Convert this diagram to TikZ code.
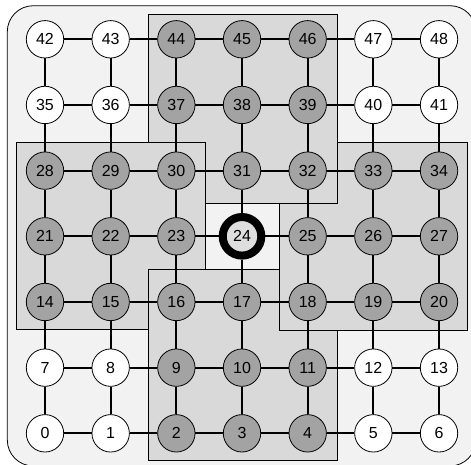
\documentclass[tikz,border=0pt]{standalone}
\usepackage{fontspec}
\setmainfont{Liberation Sans}
\definecolor{bgfill}{gray}{0.95}
\definecolor{regionfill}{gray}{0.85}
\definecolor{darkfill}{gray}{0.64}
\definecolor{hubfill}{gray}{0.87}
\tikzset{
  cell/.style={circle,draw,line width=0.8pt,minimum size=37.4pt,inner sep=0pt,
    font=\fontsize{16}{16}\selectfont},
  wcell/.style={cell,fill=white},
  gcell/.style={cell,fill=darkfill},
  hcell/.style={cell,fill=hubfill,line width=8pt,minimum size=38.6pt},
  link/.style={line width=2pt},
  regionedge/.style={line width=0.8pt},
}
\begin{document}
\begin{tikzpicture}[x=1pt,y=-1pt]
\useasboundingbox (0,0) rectangle (471,465);
\clip (0,0) rectangle (471,465);
% outer panel
\draw[fill=bgfill,line width=0.8pt,rounded corners=26pt] (7.3,5.7) rectangle (476,466);
% regions (fills)
\fill[regionfill] (148.3,14.3) rectangle (337,203.3);
\fill[regionfill] (279,142.7) rectangle (467,330);
\fill[regionfill] (148.3,269.3) rectangle (337,460);
\fill[regionfill] (16.7,142.7) rectangle (205,329.3);
% region outlines (pinwheel overlap)
\draw[regionedge] (148.3,142.7) -- (148.3,14.3) -- (337,14.3) -- (337,203.3) -- (205,203.3);
\draw[regionedge] (337,142.7) -- (467,142.7) -- (467,330) -- (279,330) -- (279,203.3);
\draw[regionedge] (337,330) -- (337,460) -- (148.3,460) -- (148.3,269.3) -- (279,269.3);
\draw[regionedge] (148.3,329.3) -- (16.7,329.3) -- (16.7,142.7) -- (205,142.7) -- (205,269.3);
% nodes
\foreach \n/\s in {0/wcell,1/wcell,2/gcell,3/gcell,4/gcell,5/wcell,6/wcell,
  7/wcell,8/wcell,9/gcell,10/gcell,11/gcell,12/wcell,13/wcell,
  14/gcell,15/gcell,16/gcell,17/gcell,18/gcell,19/gcell,20/gcell,
  21/gcell,22/gcell,23/gcell,24/hcell,25/gcell,26/gcell,27/gcell,
  28/gcell,29/gcell,30/gcell,31/gcell,32/gcell,33/gcell,34/gcell,
  35/wcell,36/wcell,37/gcell,38/gcell,39/gcell,40/wcell,41/wcell,
  42/wcell,43/wcell,44/gcell,45/gcell,46/gcell,47/wcell,48/wcell}{
  \pgfmathtruncatemacro\cc{mod(\n,7)}
  \pgfmathtruncatemacro\rr{6-int(\n/7)}
  \node[\s] (n\n) at ({45+65.67*\cc},{39.3+65.67*\rr}) {\n};
}
% links
\foreach \n in {0,...,48}{
  \pgfmathtruncatemacro\cc{mod(\n,7)}
  \pgfmathtruncatemacro\rgt{\n+1}
  \pgfmathtruncatemacro\up{\n+7}
  \ifnum\cc<6 \draw[link] (n\n) -- (n\rgt); \fi
  \ifnum\n<42 \draw[link] (n\n) -- (n\up); \fi
}
\end{tikzpicture}
\end{document}
